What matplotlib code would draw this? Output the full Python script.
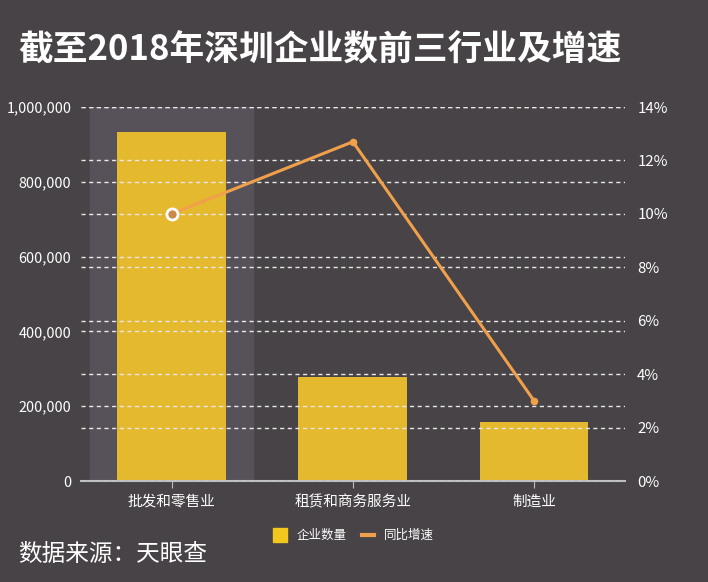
import numpy as np
import matplotlib.pyplot as plt
from matplotlib.lines import Line2D
from matplotlib.ticker import FuncFormatter

plt.rcParams['font.family'] = ['Noto Sans CJK SC', 'DejaVu Sans']

# data
industries = ['批发和零售业', '租赁和商务服务业', '制造业']
companies = [933000, 278000, 158000]
growth = [10.0, 12.7, 3.0]

bg = '#474346'
bar_col = '#e4b92e'
line_col = '#f0a04b'
txt = '#ffffff'

fig = plt.figure(figsize=(7.08, 5.82), dpi=100)
fig.patch.set_facecolor(bg)
ax = fig.add_axes([0.1144, 0.1735, 0.768, 0.6426])
ax.set_facecolor(bg)

x = np.arange(len(industries))
# highlight behind the first category
ax.axvspan(-0.45, 0.45, color='#57525a', zorder=0)
ax.bar(x, companies, width=0.6, color=bar_col, zorder=2)
ax.set_xlim(-0.5, 2.5)
ax.set_ylim(0, 1000000)
ax.set_yticks(np.arange(0, 1000001, 200000))
ax.yaxis.set_major_formatter(FuncFormatter(lambda v, p: f'{int(v):,}'))
ax.grid(axis='y', color='#e8e8e8', linestyle=(0, (3, 2.5)), linewidth=1, zorder=1)
ax.set_axisbelow(False)
ax.set_xticks(x)
ax.set_xticklabels(industries, fontsize=10.5, color=txt)
ax.tick_params(axis='y', length=0, labelsize=10.4, labelcolor=txt, pad=7)
ax.tick_params(axis='x', length=5, color='#bdbdbd', pad=5)
for s in ['top', 'left', 'right']:
    ax.spines[s].set_visible(False)
ax.spines['bottom'].set_color('#bdbdbd')
ax.spines['bottom'].set_linewidth(1.5)
ax.spines['bottom'].set_zorder(4)

ax2 = ax.twinx()
ax2.set_ylim(0, 14)
ax2.set_yticks(np.arange(0, 15, 2))
ax2.yaxis.set_major_formatter(FuncFormatter(lambda v, p: f'{int(v)}%'))
ax2.grid(axis='y', color='#e8e8e8', linestyle=(0, (3, 2.5)), linewidth=1)
ax2.tick_params(axis='y', length=0, labelsize=10.8, labelcolor=txt, pad=9)
for s in ['top', 'left', 'right', 'bottom']:
    ax2.spines[s].set_visible(False)
ax2.plot(x, growth, color=line_col, linewidth=2.2, marker='o', markersize=4.5, zorder=5)
ax2.plot(x[0], growth[0], marker='o', markersize=8, markerfacecolor='#c98a4a',
         markeredgecolor='white', markeredgewidth=2, zorder=6)

handles = [Line2D([], [], marker='s', linestyle='none', markersize=10, color='#f2c81e'),
           Line2D([], [], color=line_col, linewidth=3)]
fig.legend(handles, ['企业数量', '同比增速'], loc='center', bbox_to_anchor=(0.5, 0.08),
           ncol=2, frameon=False, fontsize=9, labelcolor=txt, handlelength=1.0,
           handletextpad=0.8, columnspacing=1.2)

fig.text(0.026, 0.915, '截至2018年深圳企业数前三行业及增速', fontsize=25, fontweight='bold',
         color=txt, va='center', ha='left')
fig.text(0.026, 0.048, '数据来源：天眼查', fontsize=17, color=txt, va='center', ha='left')

fig.savefig('out.png', dpi=100, facecolor=bg)
